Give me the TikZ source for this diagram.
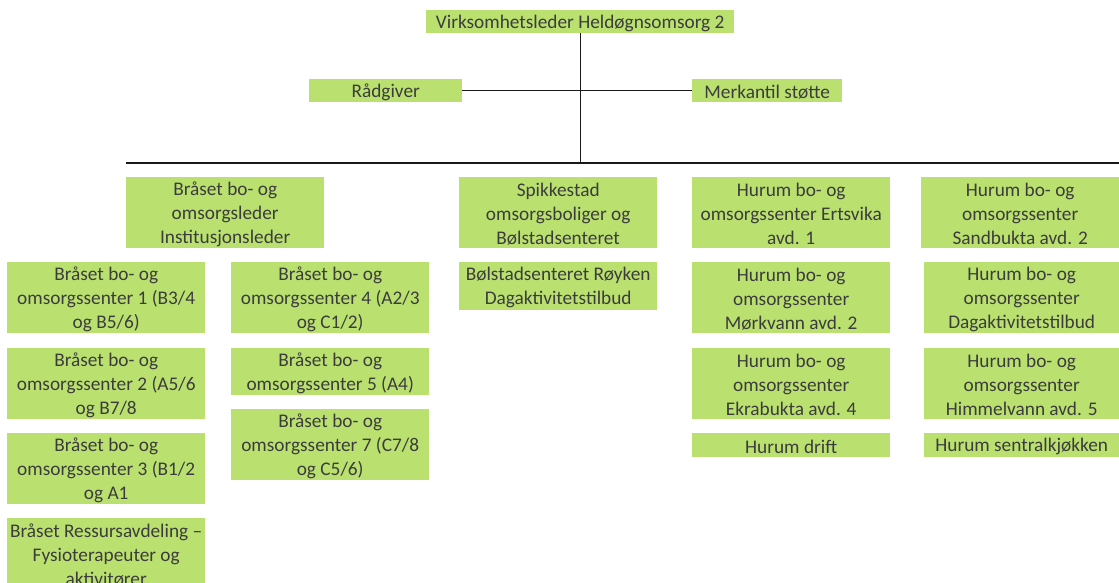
\documentclass[tikz,border=0pt]{standalone}
\usepackage{fontspec}
\setmainfont{Carlito}
\definecolor{boxgreen}{RGB}{186,225,112}
\definecolor{txtgray}{RGB}{60,60,60}
\tikzset{
  orgbox/.style={fill=boxgreen, inner sep=0pt, anchor=north west},
  orgtxt/.style={text=txtgray, align=center, inner sep=0pt,
    font=\fontsize{19.3}{24}\selectfont},
  conn/.style={draw=black!90, line width=1.2pt}
}
\newcommand{\bx}[6]{\node[orgbox, minimum width=#4pt, minimum height=#5pt] (#1) at (#2pt,-#3pt) {};
  \node[orgtxt] (#1t) at ([yshift=-1.5pt]#1.center) {#6};}
\begin{document}
\begin{tikzpicture}[x=1pt,y=1pt]
\useasboundingbox (0,0) rectangle (1119,-582);
\bx{top}{426}{10}{308}{23}{Virksomhetsleder Heldøgnsomsorg 2}
\bx{raad}{309}{79}{153}{23}{Rådgiver}
\bx{merk}{692}{79}{150}{23}{Merkantil støtte}
\bx{b0}{126}{177}{198}{71}{Bråset bo- og\\omsorgsleder\\Institusjonsleder}
\bx{b1}{7}{262}{198}{71}{Bråset bo- og\\omsorgssenter 1 (B3/4\\og B5/6)}
\bx{b4}{231}{262}{198}{71}{Bråset bo- og\\omsorgssenter 4 (A2/3\\og C1/2)}
\bx{b2}{7}{348}{198}{71}{Bråset bo- og\\omsorgssenter 2 (A5/6\\og B7/8}
\bx{b5}{231}{348}{198}{47}{Bråset bo- og\\omsorgssenter 5 (A4)}
\bx{b3}{7}{433}{198}{71}{Bråset bo- og\\omsorgssenter 3 (B1/2\\og A1}
\bx{b7}{231}{409}{198}{71}{Bråset bo- og\\omsorgssenter 7 (C7/8\\og C5/6)}
\bx{res}{7}{518}{198}{71}{Bråset Ressursavdeling –\\Fysioterapeuter og\\aktivitører}
\bx{s0}{459}{177}{198}{71}{Spikkestad\\omsorgsboliger og\\Bølstadsenteret}
\bx{s1}{459}{262}{198}{48}{Bølstadsenteret Røyken\\Dagaktivitetstilbud}
\bx{h1}{692}{177}{198}{71}{Hurum bo- og\\omsorgssenter Ertsvika\\avd. 1}
\bx{h2}{692}{262}{198}{71}{Hurum bo- og\\omsorgssenter\\Mørkvann avd. 2}
\bx{h4}{692}{348}{198}{71}{Hurum bo- og\\omsorgssenter\\Ekrabukta avd. 4}
\bx{hd}{692}{433}{198}{24}{Hurum drift}
\bx{k2}{921}{177}{198}{71}{Hurum bo- og\\omsorgssenter\\Sandbukta avd. 2}
\bx{kd}{924}{262}{195}{71}{Hurum bo- og\\omsorgssenter\\Dagaktivitetstilbud}
\bx{k5}{924}{348}{195}{71}{Hurum bo- og\\omsorgssenter\\Himmelvann avd. 5}
\bx{ks}{924}{433}{195}{24}{Hurum sentralkjøkken}
\coordinate (hl) at (126,-163);
\coordinate (hr) at (1119,-163);
\draw[conn] (top.south) -- (top.south |- hl);
\draw[conn] (raad.east) -- (merk.west);
\draw[conn] (hl) -- (hr);
\end{tikzpicture}
\end{document}
